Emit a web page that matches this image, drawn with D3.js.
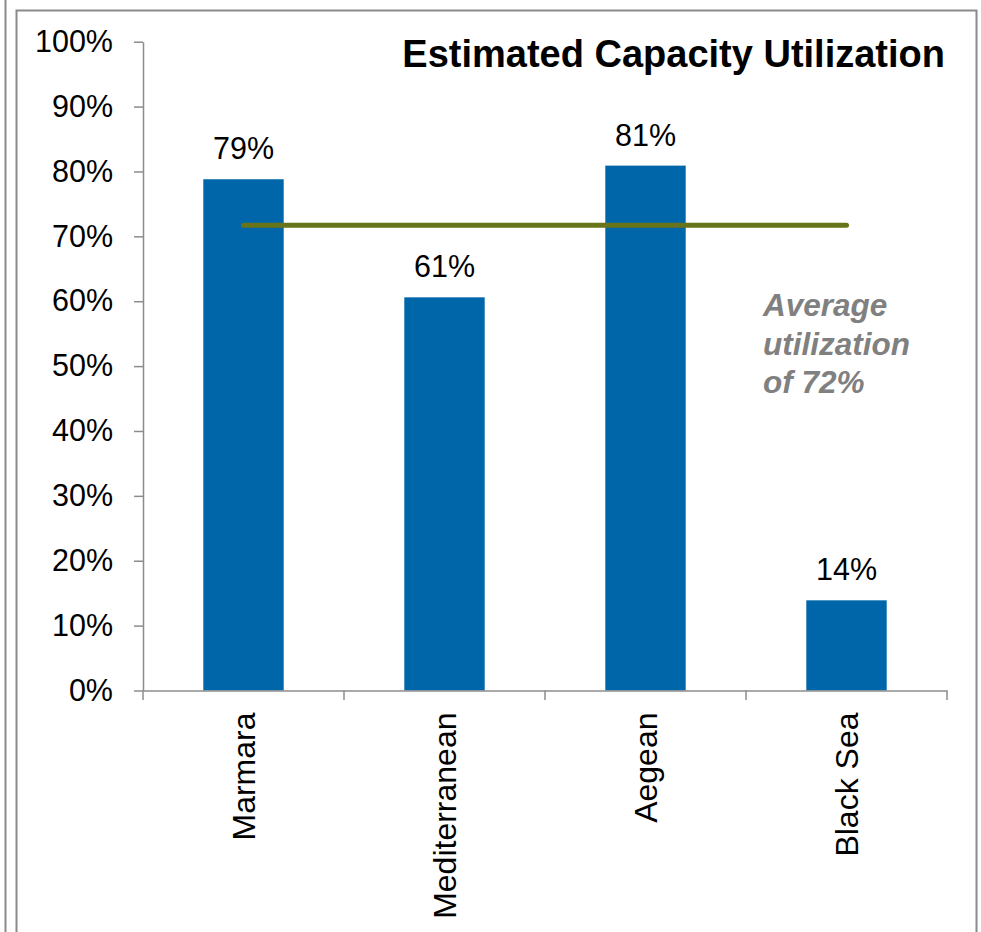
<!DOCTYPE html>
<html>
<head>
<meta charset="utf-8">
<script src="https://cdn.jsdelivr.net/npm/d3@7"></script>
<style>
  body { margin: 0; background: #fff; }
  svg { display: block; font-family: "Liberation Sans", Arial, sans-serif; }
</style>
</head>
<body>
<div id="chart"></div>
<script>
const categories = ["Marmara", "Mediterranean", "Aegean", "Black Sea"];
const utilization = [78.8, 60.6, 80.9, 13.9];
const valueLabels = ["79%", "61%", "81%", "14%"];
const averageUtil = 71.7;
const yTicks = [0, 10, 20, 30, 40, 50, 60, 70, 80, 90, 100];
const noteLines = ["Average", "utilization", "of 72%"];
const title = "Estimated Capacity Utilization";

const width = 981;
const height = 932;

const svg = d3.select("#chart").append("svg")
    .attr("width", width)
    .attr("height", height);

// frame lines
const frame = svg.append("g")
    .attr("fill", "none")
    .attr("stroke", "#8a8a8a")
    .attr("stroke-width", 2);
frame.append("line").attr("x1", 5.5).attr("x2", 5.5).attr("y1", 0).attr("y2", height);
frame.append("path").attr("d", `M16.5,${height}V10.5H976.5V${height}`);

const x = d3.scaleBand()
    .domain(categories)
    .range([143, 947])
    .paddingInner(0.6)
    .paddingOuter(0.3);

const y = d3.scaleLinear()
    .domain([0, 100])
    .range([690.5, 41.7]);

const axisColor = "#8c8c8c";

// y axis
const yAxis = svg.append("g")
    .attr("transform", "translate(143,0)")
    .call(d3.axisLeft(y)
        .tickValues(yTicks)
        .tickFormat((d) => d + "%")
        .tickSize(9)
        .tickSizeOuter(0)
        .tickPadding(21));
yAxis.selectAll("path, line").attr("stroke", axisColor).attr("stroke-width", 1.5);
yAxis.selectAll("text")
    .attr("fill", "#000")
    .style("font-size", "30.5px")
    .style("font-family", "'Liberation Sans', Arial, sans-serif");

// bars
svg.append("g").selectAll("rect")
    .data(categories)
    .join("rect")
    .attr("x", (d) => x(d))
    .attr("width", x.bandwidth())
    .attr("y", (d, i) => y(utilization[i]))
    .attr("height", (d, i) => y(0) - y(utilization[i]))
    .attr("fill", "#0066aa");

// x axis
const xAxis = svg.append("g")
    .attr("transform", `translate(0,${y(0)})`)
    .call(d3.axisBottom(x).tickSize(0).tickSizeOuter(0));
xAxis.select(".domain").attr("stroke", axisColor).attr("stroke-width", 1.5);
xAxis.selectAll("text")
    .attr("transform", "rotate(-90)")
    .attr("x", -22)
    .attr("y", 0)
    .attr("dy", "0.35em")
    .attr("text-anchor", "end")
    .attr("fill", "#000")
    .style("font-size", "32px")
    .style("font-family", "'Liberation Sans', Arial, sans-serif");

const gap = (x.step() - x.bandwidth()) / 2;
const bounds = categories.map((d) => x(d) - gap).concat([x(categories[categories.length - 1]) + x.bandwidth() + gap]);
svg.append("g").selectAll("line")
    .data(bounds)
    .join("line")
    .attr("x1", (d) => d)
    .attr("x2", (d) => d)
    .attr("y1", y(0))
    .attr("y2", y(0) + 9.5)
    .attr("stroke", axisColor)
    .attr("stroke-width", 1.5);

// value labels
svg.append("g").selectAll("text")
    .data(categories)
    .join("text")
    .attr("x", (d) => x(d) + x.bandwidth() / 2)
    .attr("y", (d, i) => y(utilization[i]) - 20)
    .attr("text-anchor", "middle")
    .style("font-size", "30.5px")
    .text((d, i) => valueLabels[i]);

// average line
const first = categories[0];
const last = categories[categories.length - 1];
svg.append("line")
    .attr("x1", x(first) + x.bandwidth() / 2)
    .attr("x2", x(last) + x.bandwidth() / 2)
    .attr("y1", y(averageUtil))
    .attr("y2", y(averageUtil))
    .attr("stroke", "#67741a")
    .attr("stroke-width", 5)
    .attr("stroke-linecap", "round");

// annotation
svg.append("text")
    .attr("x", 763)
    .attr("y", 316)
    .attr("fill", "#808080")
    .style("font-size", "31.5px")
    .style("font-weight", "bold")
    .style("font-style", "italic")
    .selectAll("tspan")
    .data(noteLines)
    .join("tspan")
    .attr("x", 763)
    .attr("dy", (d, i) => i === 0 ? 0 : 38.5)
    .text((d) => d);

// title
svg.append("text")
    .attr("x", 945)
    .attr("y", 67)
    .attr("text-anchor", "end")
    .style("font-size", "38px")
    .style("font-weight", "bold")
    .text(title);
</script>
</body>
</html>
